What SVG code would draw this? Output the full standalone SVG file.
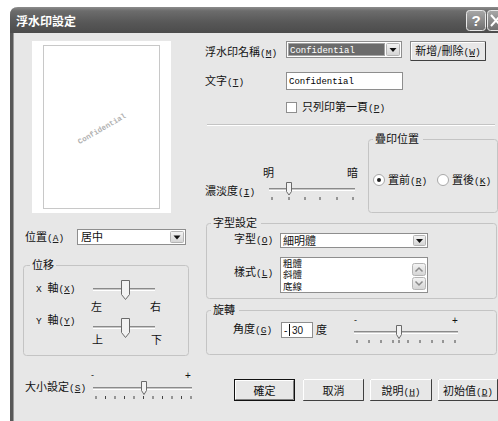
<svg xmlns="http://www.w3.org/2000/svg" width="498" height="421" viewBox="0 0 498 421">
<defs>
<linearGradient id="tb" x1="0" y1="0" x2="0" y2="1">
<stop offset="0" stop-color="#8c8c8c"/>
<stop offset="0.15" stop-color="#6c6c6c"/>
<stop offset="0.6" stop-color="#575757"/>
<stop offset="1" stop-color="#4c4c4c"/>
</linearGradient>
<linearGradient id="cb" x1="0" y1="0" x2="0" y2="1">
<stop offset="0" stop-color="#a8a8a8"/>
<stop offset="1" stop-color="#6e6e6e"/>
</linearGradient>
<linearGradient id="dd" x1="0" y1="0" x2="0" y2="1">
<stop offset="0" stop-color="#f4f4f4"/>
<stop offset="1" stop-color="#d4d4d4"/>
</linearGradient>
<style>
.t{font-family:"Noto Sans CJK TC","Noto Sans CJK SC",sans-serif;font-size:11px;fill:#111}
.m{font-family:"Liberation Mono",monospace;font-size:9.5px}
.c{font-family:"Liberation Mono",monospace;font-size:9px}
.u{text-decoration:underline}
.grp{fill:none;stroke:#c4c4c4;stroke-width:1}
.box{fill:#fff;stroke:#8e8e8e;stroke-width:1}
.ddb{fill:url(#dd);stroke:#b4b4b4;stroke-width:1}
.tri{fill:#111}
.trk{stroke:#8a8a8a;stroke-width:1}
.trw{stroke:#fff;stroke-width:1}
.thm{fill:#f2f2f2;stroke:#6a6a6a;stroke-width:1}
.tick{stroke:#444;stroke-width:1}
.bt{fill:#e7e7e7;stroke:#8a8a8a;stroke-width:1}
.bhl{stroke:#fff;stroke-width:1;fill:none}
</style>
</defs>
<rect width="498" height="421" fill="#fff"/>
<g id="window">
<path d="M10,421 V15 Q10,7 18,7 H498 V421 Z" fill="#e7e7e7"/>
<path d="M10,33 V15 Q10,7 18,7 H498 V33 Z" fill="url(#tb)"/>
<rect x="10" y="33" width="3" height="388" fill="#585858"/>
<line x1="13.5" y1="33" x2="13.5" y2="421" stroke="#9a9a9a"/>
<text x="16" y="26" style="font-family:'Noto Sans CJK TC',sans-serif;font-size:12px;font-weight:bold;fill:#fff">浮水印設定</text>
<rect x="466.5" y="10.5" width="19" height="20" rx="3" fill="url(#cb)" stroke="#e8e8e8"/>
<text x="476" y="26" text-anchor="middle" style="font-family:'Liberation Sans',sans-serif;font-size:15px;font-weight:bold;fill:#fff">?</text>
<rect x="487.5" y="10.5" width="20" height="20" rx="3" fill="url(#cb)" stroke="#e8e8e8"/>
<path d="M491,15 L501,26 M501,15 L491,26" stroke="#fff" stroke-width="2"/>
</g>
<g id="preview">
<rect x="32" y="41" width="139" height="172" fill="#fff"/>
<rect x="43.5" y="45.5" width="116" height="163" fill="none" stroke="#c8c8c8"/>
<text x="102" y="131" text-anchor="middle" transform="rotate(-30 102 129)" style="font-family:'Liberation Mono',monospace;font-size:7.5px;font-weight:bold;fill:#b0b0b0">Confidential</text>
</g>
<g id="name-row">
<text class="t" x="205" y="56">浮水印名稱<tspan class="m">(<tspan class="u">M</tspan>)</tspan></text>
<rect class="box" x="286.5" y="41.5" width="115" height="16"/>
<rect x="288" y="43" width="97" height="13" fill="#6b6b6b"/>
<rect x="288.5" y="43.5" width="96" height="12" fill="none" stroke="#ddd" stroke-dasharray="1 1"/>
<text class="c" x="290" y="53" style="fill:#fff">Confidential</text>
<rect class="ddb" x="386.5" y="43.5" width="13" height="12" rx="1"/>
<path class="tri" d="M389.5,48 h7 l-3.5,4 Z"/>
</g>
<g id="btn-new">
<rect x="410.5" y="41.5" width="75" height="19" class="bt"/>
<path class="bhl" d="M411.5,59 V42.5 H484"/>
<path d="M485.5,42 V60.5 H411" stroke="#404040" fill="none"/>
<text class="t" x="448" y="55" text-anchor="middle">新增/刪除<tspan class="m">(<tspan class="u">W</tspan>)</tspan></text>
</g>
<g id="text-row">
<text class="t" x="205" y="85">文字<tspan class="m">(<tspan class="u">T</tspan>)</tspan></text>
<rect class="box" x="286.5" y="72.5" width="116" height="17"/>
<text class="c" x="289" y="84">Confidential</text>
</g>
<g id="first-page">
<rect x="286.5" y="102.5" width="10" height="10" fill="#fff" stroke="#8e8e8e"/>
<text class="t" x="302" y="111">只列印第一頁<tspan class="m">(<tspan class="u">P</tspan>)</tspan></text>
</g>
<g id="separator">
<line x1="207" y1="124.5" x2="495" y2="124.5" stroke="#c4c4c4"/>
<line x1="207" y1="125.5" x2="495" y2="125.5" stroke="#fff"/>
</g>
<g id="density">
<text class="t" x="263" y="177">明</text>
<text class="t" x="347" y="177">暗</text>
<text class="t" x="205" y="195">濃淡度<tspan class="m">(<tspan class="u">I</tspan>)</tspan></text>
<line class="trk" x1="269" y1="188.5" x2="355" y2="188.5"/>
<line class="trw" x1="269" y1="190.5" x2="355" y2="190.5"/>
<line x1="269" y1="189.5" x2="355" y2="189.5" stroke="#c8c8c8"/>
<path class="thm" d="M286.5,182.5 h5 v9 l-2.5,3.5 l-2.5,-3.5 Z"/>
<g class="tick">
<line x1="272" y1="197" x2="272" y2="200"/><line x1="289" y1="197" x2="289" y2="200"/><line x1="305" y1="197" x2="305" y2="200"/><line x1="320" y1="197" x2="320" y2="200"/><line x1="337" y1="197" x2="337" y2="200"/><line x1="353" y1="197" x2="353" y2="200"/>
</g>
</g>
<g id="overlay-pos">
<rect class="grp" x="368.5" y="139.5" width="129" height="73" rx="3"/>
<rect x="373" y="132" width="50" height="12" fill="#e7e7e7"/>
<text class="t" x="375" y="143">疊印位置</text>
<circle cx="379" cy="180" r="5.5" fill="#fff" stroke="#a8a8a8"/>
<circle cx="379" cy="180" r="2" fill="#222"/>
<text class="t" x="388" y="184">置前<tspan class="m">(<tspan class="u">R</tspan>)</tspan></text>
<circle cx="443" cy="180" r="5.5" fill="#fff" stroke="#a8a8a8"/>
<text class="t" x="452" y="184">置後<tspan class="m">(<tspan class="u">K</tspan>)</tspan></text>
</g>
<g id="position">
<text class="t" x="25" y="241">位置<tspan class="m">(<tspan class="u">A</tspan>)</tspan></text>
<rect class="box" x="77.5" y="229.5" width="108" height="15"/>
<text class="t" x="81" y="241">居中</text>
<rect class="ddb" x="170.5" y="231.5" width="13" height="11" rx="1"/>
<path class="tri" d="M173.5,235.5 h7 l-3.5,4 Z"/>
</g>
<g id="offset">
<rect class="grp" x="23.5" y="265.5" width="165" height="90" rx="3"/>
<rect x="30" y="258" width="26" height="12" fill="#e7e7e7"/>
<text class="t" x="32" y="269">位移</text>
<text class="t" x="36" y="292"><tspan class="m">X </tspan>軸<tspan class="m">(<tspan class="u">X</tspan>)</tspan></text>
<line class="trk" x1="93" y1="288.5" x2="155" y2="288.5"/>
<line x1="93" y1="289.5" x2="155" y2="289.5" stroke="#c8c8c8"/>
<line class="trw" x1="93" y1="290.5" x2="155" y2="290.5"/>
<path class="thm" d="M121.5,280.5 h8 v14 l-4,5 l-4,-5 Z"/>
<text class="t" x="91" y="311">左</text>
<text class="t" x="150" y="311">右</text>
<text class="t" x="36" y="324"><tspan class="m">Y </tspan>軸<tspan class="m">(<tspan class="u">Y</tspan>)</tspan></text>
<line class="trk" x1="93" y1="326.5" x2="155" y2="326.5"/>
<line x1="93" y1="327.5" x2="155" y2="327.5" stroke="#c8c8c8"/>
<line class="trw" x1="93" y1="328.5" x2="155" y2="328.5"/>
<path class="thm" d="M121.5,318.5 h8 v14 l-4,5 l-4,-5 Z"/>
<text class="t" x="92" y="344">上</text>
<text class="t" x="151" y="344">下</text>
</g>
<g id="size">
<text class="t" x="25" y="391">大小設定<tspan class="m">(<tspan class="u">S</tspan>)</tspan></text>
<text x="91" y="378" style="font-family:'Liberation Sans',sans-serif;font-size:9px;fill:#111">-</text>
<text x="185" y="379" style="font-family:'Liberation Sans',sans-serif;font-size:10px;fill:#111">+</text>
<line class="trk" x1="93" y1="387.5" x2="192" y2="387.5"/>
<line x1="93" y1="388.5" x2="192" y2="388.5" stroke="#c8c8c8"/>
<line class="trw" x1="93" y1="389.5" x2="192" y2="389.5"/>
<path class="thm" d="M141.5,381.5 h5 v9 l-2.5,4 l-2.5,-4 Z"/>
<g class="tick">
<line x1="96" y1="396" x2="96" y2="399"/><line x1="105.5" y1="396" x2="105.5" y2="399"/><line x1="115" y1="396" x2="115" y2="399"/><line x1="124.5" y1="396" x2="124.5" y2="399"/><line x1="134" y1="396" x2="134" y2="399"/><line x1="143.5" y1="396" x2="143.5" y2="399"/><line x1="153" y1="396" x2="153" y2="399"/><line x1="162.5" y1="396" x2="162.5" y2="399"/><line x1="172" y1="396" x2="172" y2="399"/><line x1="181.5" y1="396" x2="181.5" y2="399"/><line x1="191" y1="396" x2="191" y2="399"/>
</g>
</g>
<g id="font-settings">
<rect class="grp" x="206.5" y="223.5" width="290" height="75" rx="3"/>
<rect x="211" y="216" width="50" height="12" fill="#e7e7e7"/>
<text class="t" x="213" y="227">字型設定</text>
<text class="t" x="234" y="243">字型<tspan class="m">(<tspan class="u">O</tspan>)</tspan></text>
<rect class="box" x="280.5" y="233.5" width="147" height="14"/>
<text class="t" x="283" y="244.5">細明體</text>
<rect class="ddb" x="413.5" y="235.5" width="12" height="10" rx="1"/>
<path class="tri" d="M416,239 h7 l-3.5,4 Z"/>
<text class="t" x="234" y="276">樣式<tspan class="m">(<tspan class="u">L</tspan>)</tspan></text>
<rect class="box" x="280.5" y="257.5" width="147" height="35"/>
<text class="t" x="283" y="266.5" style="font-size:9.5px">粗體</text>
<text class="t" x="283" y="278" style="font-size:9.5px">斜體</text>
<text class="t" x="283" y="289.5" style="font-size:9.5px">底線</text>
<rect class="ddb" x="412.5" y="263.5" width="13" height="12" rx="2"/>
<path d="M415.5,271.5 l3.5,-3.5 l3.5,3.5" fill="none" stroke="#8a8a8a" stroke-width="1.5"/>
<rect class="ddb" x="412.5" y="277.5" width="13" height="12" rx="2"/>
<path d="M415.5,281.5 l3.5,3.5 l3.5,-3.5" fill="none" stroke="#8a8a8a" stroke-width="1.5"/>
</g>
<g id="rotation">
<rect class="grp" x="206.5" y="310.5" width="290" height="44" rx="3"/>
<rect x="211" y="303" width="28" height="12" fill="#e7e7e7"/>
<text class="t" x="213" y="314">旋轉</text>
<text class="t" x="233" y="333">角度<tspan class="m">(<tspan class="u">G</tspan>)</tspan></text>
<rect class="box" x="281.5" y="322.5" width="31" height="15"/>
<text x="284" y="334" style="font-family:'Liberation Sans',sans-serif;font-size:10px;fill:#111">-</text>
<line x1="289.5" y1="324" x2="289.5" y2="336" stroke="#111"/>
<text x="292" y="334" style="font-family:'Liberation Sans',sans-serif;font-size:10px;fill:#111">30</text>
<text class="t" x="316" y="334">度</text>
<text x="354" y="323" style="font-family:'Liberation Sans',sans-serif;font-size:9px;fill:#111">-</text>
<text x="452" y="324" style="font-family:'Liberation Sans',sans-serif;font-size:10px;fill:#111">+</text>
<line class="trk" x1="354" y1="331.5" x2="458" y2="331.5"/>
<line x1="354" y1="332.5" x2="458" y2="332.5" stroke="#c8c8c8"/>
<line class="trw" x1="354" y1="333.5" x2="458" y2="333.5"/>
<path class="thm" d="M396.5,325.5 h5 v9 l-2.5,4 l-2.5,-4 Z"/>
<g class="tick">
<line x1="357" y1="340" x2="357" y2="343"/><line x1="369" y1="340" x2="369" y2="343"/><line x1="381" y1="340" x2="381" y2="343"/><line x1="393" y1="340" x2="393" y2="343"/><line x1="399" y1="340" x2="399" y2="343"/><line x1="408" y1="340" x2="408" y2="343"/><line x1="420" y1="340" x2="420" y2="343"/><line x1="432" y1="340" x2="432" y2="343"/><line x1="443" y1="340" x2="443" y2="343"/><line x1="455" y1="340" x2="455" y2="343"/>
</g>
</g>
<g id="btn-ok">
<rect x="234.5" y="379.5" width="60" height="21" fill="#e7e7e7" stroke="#111"/>
<path class="bhl" d="M235.5,399 V380.5 H293"/>
<path d="M293.5,380.5 V399.5 H235.5" stroke="#808080" fill="none"/>
<text class="t" x="264.5" y="394.5" text-anchor="middle">確定</text>
</g>
<g id="btn-cancel">
<rect x="303.5" y="379.5" width="60" height="21" class="bt" stroke="#e7e7e7"/>
<path class="bhl" d="M303.5,400 V379.5 H363"/>
<path d="M363.5,379.5 V400.5 H303.5" stroke="#404040" fill="none"/>
<text class="t" x="333.5" y="394.5" text-anchor="middle">取消</text>
</g>
<g id="btn-help">
<rect x="370.5" y="379.5" width="61" height="21" class="bt" stroke="#e7e7e7"/>
<path class="bhl" d="M370.5,400 V379.5 H431"/>
<path d="M431.5,379.5 V400.5 H370.5" stroke="#404040" fill="none"/>
<text class="t" x="401" y="394.5" text-anchor="middle">說明<tspan class="m">(<tspan class="u">H</tspan>)</tspan></text>
</g>
<g id="btn-default">
<rect x="438.5" y="379.5" width="59" height="21" class="bt" stroke="#e7e7e7"/>
<path class="bhl" d="M438.5,400 V379.5 H497"/>
<path d="M497.5,379.5 V400.5 H438.5" stroke="#404040" fill="none"/>
<text class="t" x="468" y="394.5" text-anchor="middle">初始值<tspan class="m">(<tspan class="u">D</tspan>)</tspan></text>
</g>
</svg>
